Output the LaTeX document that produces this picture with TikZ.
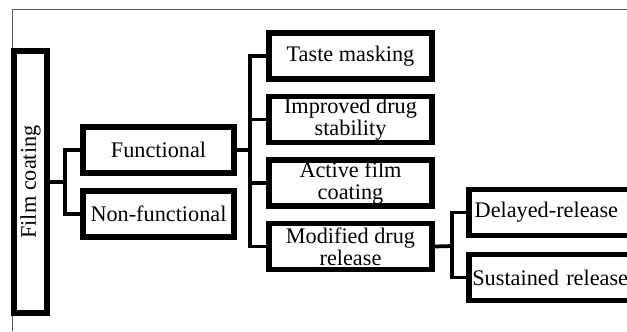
\documentclass[tikz,border=0pt]{standalone}
\usepackage{fontspec}
\setmainfont{Liberation Serif}
\usepackage{tikz}
\usetikzlibrary{positioning,calc}
\definecolor{FrameGray}{RGB}{90,90,90}

\begin{document}
\begin{tikzpicture}[
  x=0.03cm, y=-0.03cm,
  font=\fontsize{19}{18.5}\selectfont,
  box/.style={
    rectangle, draw=black, line width=4.4pt, fill=white,
    align=center, inner sep=0pt, minimum height=1.38cm
  },
  root/.style={box, minimum width=0.99cm, minimum height=7.86cm},
  cat/.style={box, minimum width=4.53cm},
  leaf/.style={box, minimum width=4.89cm},
  sub/.style={box, minimum width=5.1cm, text width=4.9cm, align=left},
  link/.style={draw=black, line width=3.2pt}
]
\useasboundingbox (0,0) rectangle (627,331);
\clip (0,0) rectangle (627,331);

% Outer frame
\draw[FrameGray, line width=0.8pt] (627,9) -- (12,9) -- (12,331);

% Root and first level
\node[root] (film) at (30.5,182) {\rotatebox{90}{Film coating}};
\node[cat] (func) at (158.5,150) {Functional};
\node[cat] (nonfunc) at (158.5,214) {Non-functional};

% Functional uses
\node[leaf] (taste) at (350.5,56) {Taste masking};
\node[leaf] (stable) at (350.5,119.5) {Improved drug\\stability};
\node[leaf] (active) at (350.5,183) {Active film\\coating};
\node[leaf] (modrel) at (350.5,246.5) {Modified drug\\release};

% Release types
\node[sub] (delayed) at (554,212.5) {\hspace{2pt}Delayed-release};
\node[sub] (sustained) at (554,277.5) {Sustained release};

% --- connectors ---
\coordinate (j1) at (65,182);
\coordinate (j2) at (250,150);
\coordinate (j3) at (452,246);

\draw[link] (film.east) -- (j1);
\draw[link] (func.west) -| (j1) |- (nonfunc.west);

\draw[link] (func.east) -- (j2);
\draw[link] (taste.west) -| (j2) |- (modrel.west);
\draw[link] (stable.west) -- (stable.west -| j2);
\draw[link] (active.west) -- (active.west -| j2);

\draw[link] (modrel.east) -- (j3);
\draw[link] (delayed.west) -| (j3) |- (sustained.west);

\end{tikzpicture}
\end{document}
